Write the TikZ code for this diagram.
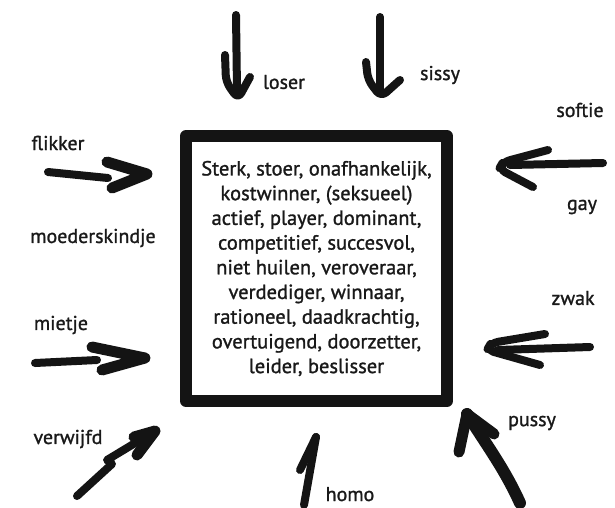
\documentclass[tikz,border=0pt]{standalone}
\usepackage{fontspec}
\setmainfont[FakeBold=1.2]{PT Sans}
\begin{document}
\begin{tikzpicture}[x=1pt,y=-1pt,line cap=round,line join=round,
  lbl/.style={font=\fontsize{20}{22}\selectfont,inner sep=0pt,text=black!90},
  pen/.style={line width=8pt,draw=black!92},
  fatpen/.style={line width=11pt,draw=black!92}]
\useasboundingbox (0,0) rectangle (615,507);
\fill[white] (0,0) rectangle (615,507);
% central box
\node[draw=black!92,line width=12pt,minimum width=261pt,minimum height=265pt,
      inner sep=0pt,align=center,font=\fontsize{20.5}{24.7}\selectfont,text=black!90]
  (box) at (316.5,268.5) {Sterk, stoer, onafhankelijk,\\kostwinner, (seksueel)\\actief, player, dominant,\\competitief, succesvol,\\niet huilen, veroveraar,\\verdediger, winnaar,\\rationeel, daadkrachtig,\\overtuigend, doorzetter,\\leider, beslisser};
% labels
\node[lbl] (loser) at (284,82) {loser};
\node[lbl] (sissy) at (440,75) {sissy};
\node[lbl] (softie) at (580,110) {softie};
\node[lbl] (flikker) at (58,143) {flikker};
\node[lbl] (gay) at (582,207) {gay};
\node[lbl] (moeder) at (93,238) {moederskindje};
\node[lbl] (zwak) at (573,298) {zwak};
\node[lbl] (mietje) at (61,325) {mietje};
\node[lbl] (verwijfd) at (68,439) {verwijfd};
\node[lbl] (pussy) at (532,423) {pussy};
\node[lbl,anchor=base] (homo) at (350,501) {homo};
% arrow coordinates
\coordinate (loserT) at (236,15);  \coordinate (loserH) at (237,90);
\coordinate (sissyT) at (380,17);  \coordinate (sissyH) at (380,92);
\coordinate (flikT) at (48,172);   \coordinate (flikH) at (147,174);
\coordinate (softT) at (603,163);  \coordinate (softH) at (499,169);
\coordinate (mietT) at (35,363);   \coordinate (mietH) at (145,358);
\coordinate (zwakT) at (590,347);  \coordinate (zwakH) at (487,350);
\coordinate (verwT) at (77,496);   \coordinate (verwH) at (155,431);
\coordinate (homoT) at (304,505);  \coordinate (homoH) at (316,437);
\coordinate (pussT) at (520,503);  \coordinate (pussH) at (467,414);
% loser
\draw[pen] (loserT) -- (loserH);
\draw[pen,rounded corners=7pt] (225,55) -- (226,82) -- (238,99) -- (250,77);
% sissy
\draw[pen] (sissyT) -- (sissyH);
\draw[pen,rounded corners=7pt] (366,62) -- (368,80) -- (381,97) -- (400,80);
% flikker
\draw[pen] (flikT) -- (108,178);
\draw[fatpen] (107,162) -- (flikH) -- (112,188);
% softie / gay
\draw[pen] (softT) -- (510,165);
\draw[pen,rounded corners=7pt] (548,150) -- (503,162) -- (softH) -- (533,187);
% mietje
\draw[pen] (mietT) -- (97,360);
\draw[fatpen] (92,347) -- (mietH) -- (102,370);
% zwak
\draw[pen] (zwakT) -- (498,350);
\draw[pen,rounded corners=7pt] (545,334) -- (491,343) -- (zwakH) -- (540,365);
% verwijfd
\draw[pen] (verwT) -- (112,464) -- (107,460) -- (verwH);
\draw[fatpen] (134,437) -- (verwH) -- (137,455);
% homo
\draw[pen] (homoT) -- (homoH);
\draw[pen] (homoH) -- (300,470);
% pussy
\draw[line width=12pt,draw=black!92] (pussT) .. controls (505,470) and (490,450) .. (pussH);
\draw[fatpen] (459,452) -- (pussH) -- (494,434);
\end{tikzpicture}
\end{document}
